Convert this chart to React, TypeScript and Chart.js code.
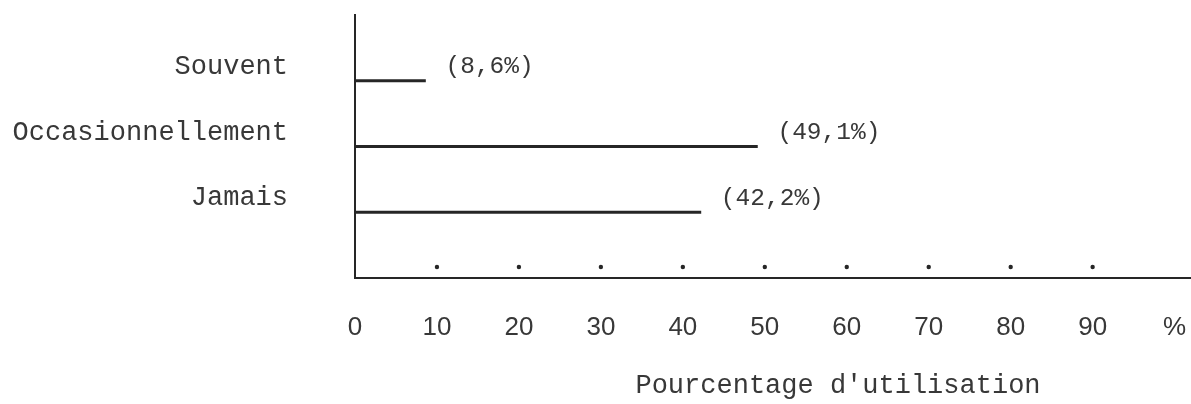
import React, { useEffect, useRef } from "react";
import { Chart, registerables } from "chart.js";

Chart.register(...registerables);

// ---- data ----
const categories: string[] = ["Souvent", "Occasionnellement", "Jamais"];
const values: number[] = [8.6, 49.1, 42.2];
const valueLabels: string[] = ["(8,6%)", "(49,1%)", "(42,2%)"];
const tickValues: number[] = [0, 10, 20, 30, 40, 50, 60, 70, 80, 90, 100];
const tickLabels: string[] = ["0", "10", "20", "30", "40", "50", "60", "70", "80", "90", "%"];
const dotValues: number[] = [10, 20, 30, 40, 50, 60, 70, 80, 90];
const axisTitle = "Pourcentage d'utilisation";

const W = 1191;
const H = 404;
const INK = "#262626";
const TEXT = "#383838";
const MONO = "'Liberation Mono', 'DejaVu Sans Mono', monospace";
const NARROW = "'Liberation Sans Narrow', 'Liberation Sans', sans-serif";

const decorPlugin = {
  id: "decor",
  afterDatasetsDraw(chart: any) {
    const { ctx, chartArea, scales } = chart;
    const xs = scales.x;
    const ys = scales.y;
    ctx.save();
    // dots above the x axis
    ctx.fillStyle = INK;
    dotValues.forEach((v) => {
      const x = xs.getPixelForValue(v);
      ctx.beginPath();
      ctx.arc(x, chartArea.bottom - 11, 2.2, 0, Math.PI * 2);
      ctx.fill();
    });
    // value labels
    ctx.fillStyle = TEXT;
    ctx.font = `24.5px ${MONO}`;
    ctx.textAlign = "left";
    ctx.textBaseline = "middle";
    values.forEach((v, i) => {
      const x = xs.getPixelForValue(v) + 20;
      const y = ys.getPixelForValue(i + 1) - 14;
      ctx.fillText(valueLabels[i], x, y);
    });
    // axis title
    ctx.font = `27px ${MONO}`;
    ctx.textAlign = "center";
    ctx.textBaseline = "middle";
    ctx.fillText(axisTitle, 838, 386);
    ctx.restore();
  },
};

export default function App() {
  const ref = useRef<HTMLCanvasElement | null>(null);

  useEffect(() => {
    if (!ref.current) return;
    const yLabels = ["", ...categories, ""];
    const chart = new Chart(ref.current, {
      type: "bar",
      data: {
        labels: yLabels,
        datasets: [
          {
            data: [null, ...values, null] as any,
            backgroundColor: INK,
            borderWidth: 0,
            barThickness: 2.5,
          },
        ],
      },
      options: {
        indexAxis: "y",
        responsive: false,
        animation: false,
        layout: { padding: { top: 15, left: 0, right: 0, bottom: 0 } },
        plugins: {
          legend: { display: false },
          tooltip: { enabled: false },
        },
        scales: {
          x: {
            type: "linear",
            min: 0,
            max: 102,
            grid: { display: false, drawTicks: false },
            border: { display: true, color: INK, width: 2 },
            afterBuildTicks: (s: any) => {
              s.ticks = tickValues.map((v) => ({ value: v }));
            },
            afterFit: (s: any) => {
              s.height = H - 278;
              s.paddingLeft = 0;
              s.paddingRight = 0;
            },
            ticks: {
              padding: 34,
              color: TEXT,
              font: { family: NARROW, size: 26 },
              maxRotation: 0,
              autoSkip: false,
              callback: (v: any) => {
                const idx = tickValues.indexOf(Number(v));
                return idx >= 0 ? tickLabels[idx] : "";
              },
            },
          },
          y: {
            type: "category",
            offset: false,
            grid: { display: false, drawTicks: false },
            border: { display: true, color: INK, width: 2 },
            afterFit: (s: any) => {
              s.width = 355;
              s.paddingTop = 0;
              s.paddingBottom = 0;
            },
            ticks: {
              padding: 67,
              labelOffset: -14,
              color: TEXT,
              font: { family: MONO, size: 27 },
              autoSkip: false,
            },
          },
        },
      },
      plugins: [decorPlugin],
    });
    return () => chart.destroy();
  }, []);

  return (
    <div style={{ position: "fixed", left: 0, top: 0, width: W, height: H, background: "#fff" }}>
      <canvas ref={ref} width={W} height={H} style={{ display: "block", width: W, height: H }} />
    </div>
  );
}
